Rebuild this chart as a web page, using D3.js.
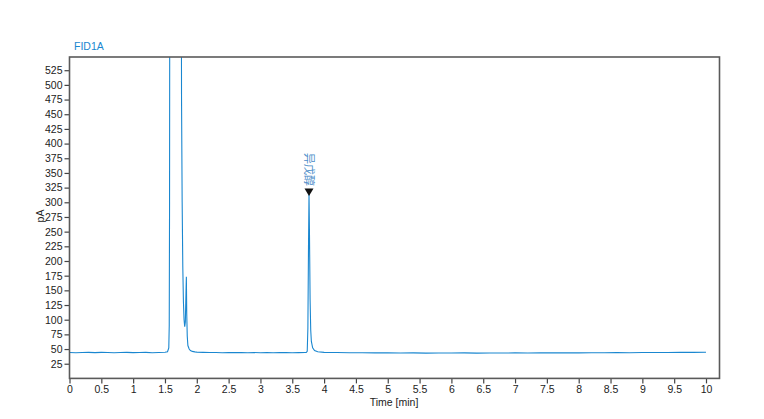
<!DOCTYPE html>
<html>
<head>
<meta charset="utf-8">
<script src="https://cdn.jsdelivr.net/npm/d3@7"></script>
<style>
  body { margin: 0; background: #fff; }
  text { font-family: "Liberation Sans", Arial, sans-serif; }
</style>
</head>
<body>
<svg width="764" height="419"></svg>
<script>
// signal (time in min, signal in pA)
const times = [
  0, 0.1, 0.2, 0.3, 0.4, 0.5, 0.6, 0.7, 0.8, 0.9, 1.0, 1.1, 1.2, 1.3, 1.4, 1.5,
  1.54, 1.56, 1.567, 1.572, 1.577, 1.6, 1.7, 1.755, 1.76, 1.77, 1.78, 1.79, 1.8, 1.81, 1.82,
  1.83, 1.836, 1.842, 1.85, 1.86, 1.88, 1.9, 1.93, 1.97, 2.0,
  2.1, 2.2, 2.3, 2.4, 2.5, 2.6, 2.7, 2.8, 2.9, 3.0, 3.1, 3.2, 3.3, 3.4, 3.5, 3.6, 3.7,
  3.72, 3.735, 3.745, 3.755, 3.763, 3.77, 3.78, 3.79, 3.8, 3.82, 3.85, 3.9, 4.0,
  4.2, 4.4, 4.6, 4.8, 5.0, 5.2, 5.4, 5.6, 5.8, 6.0, 6.2, 6.4, 6.6, 6.8, 7.0,
  7.2, 7.4, 7.6, 7.8, 8.0, 8.2, 8.4, 8.6, 8.8, 9.0, 9.2, 9.4, 9.6, 9.8, 10.0
];
const signal = [
  44.2, 43.8, 44.0, 44.4, 43.9, 44.3, 44.1, 43.7, 44.2, 44.4, 43.9, 44.0, 44.3, 43.8, 44.1, 44.6,
  45.5, 52, 90, 300, 900, 2500, 2500, 900, 480, 300, 190, 130, 100, 88, 96,
  145, 173, 110, 72, 56, 50, 47.5, 46, 45.2, 44.8,
  44.3, 44.0, 44.2, 43.8, 44.1, 43.9, 44.2, 43.7, 44.0, 43.8, 44.1, 43.6, 43.9, 44.0, 43.7, 43.9, 44.0,
  44.3, 46, 85, 225, 316, 250, 135, 82, 63, 52, 47.5, 45.3, 44.4,
  44.0, 43.6, 43.8, 43.4, 43.5, 43.2, 43.4, 43.1, 43.3, 43.2, 43.4, 43.1, 43.3, 43.2, 43.5,
  43.3, 43.6, 43.4, 43.7, 43.5, 43.8, 43.6, 43.9, 43.8, 44.0, 44.1, 44.0, 44.3, 44.4, 44.6
];
const xTicks = [0, 0.5, 1, 1.5, 2, 2.5, 3, 3.5, 4, 4.5, 5, 5.5, 6, 6.5, 7, 7.5, 8, 8.5, 9, 9.5, 10];
const yTicks = [25, 50, 75, 100, 125, 150, 175, 200, 225, 250, 275, 300, 325, 350, 375, 400, 425, 450, 475, 500, 525];
const peakTime = [3.763];
const peakHeight = [316];
const peakName = ["异戊醇"];

const svg = d3.select("svg");
const pLeft = 69.5, pTop = 57, pRight = 719.5, pBottom = 378.4;
const blue = "#1a87d0";

const x = d3.scaleLinear().domain([0, 10]).range([pLeft, 706]);
const y = d3.scaleLinear().domain([0, 547.5]).range([pBottom, pTop]);

svg.append("clipPath").attr("id", "plot")
  .append("rect").attr("x", pLeft).attr("y", pTop)
  .attr("width", pRight - pLeft).attr("height", pBottom - pTop);

// trace
const pts = times.map((t, i) => [t, signal[i]]);
svg.append("path")
  .datum(pts)
  .attr("clip-path", "url(#plot)")
  .attr("fill", "none")
  .attr("stroke", blue)
  .attr("stroke-width", 1.1)
  .attr("d", d3.line().x(d => x(d[0])).y(d => y(d[1])));

// axes
const xAxis = svg.append("g")
  .attr("transform", `translate(0,${pBottom})`)
  .call(d3.axisBottom(x).tickValues(xTicks).tickSize(5).tickPadding(2).tickFormat(d3.format("")));
const yAxis = svg.append("g")
  .attr("transform", `translate(${pLeft},0)`)
  .call(d3.axisLeft(y).tickValues(yTicks).tickSize(5).tickPadding(2));

[xAxis, yAxis].forEach(g => {
  g.select(".domain").remove();
  g.selectAll("line").attr("stroke", "#444").attr("stroke-width", 1.2);
  g.selectAll("text").attr("fill", "#222").style("font-size", "10.5px")
    .style("font-family", "'Liberation Sans', Arial, sans-serif");
});

// frame
svg.append("rect")
  .attr("x", pLeft).attr("y", pTop)
  .attr("width", pRight - pLeft).attr("height", pBottom - pTop)
  .attr("fill", "none").attr("stroke", "#5a5a5a").attr("stroke-width", 1.6);

// labels
svg.append("text").attr("x", 74).attr("y", 50)
  .attr("fill", blue).style("font-size", "10.5px").text("FID1A");
svg.append("text").attr("x", 394).attr("y", 406)
  .attr("text-anchor", "middle").attr("fill", "#222").style("font-size", "10.5px")
  .text("Time [min]");
svg.append("text")
  .attr("transform", "translate(44,216) rotate(-90)")
  .attr("text-anchor", "middle").attr("fill", "#222").style("font-size", "10.5px")
  .text("pA");

// peak marker and name
const peaks = svg.selectAll(".peak").data(peakTime).enter().append("g")
  .attr("class", "peak")
  .attr("transform", (d, i) => `translate(${x(d)},${y(peakHeight[i])})`);
peaks.append("path").attr("d", "M-4.5,-4.5L4.5,-4.5L0,3Z").attr("fill", "#111");
peaks.append("text")
  .attr("transform", "translate(-4,-40) rotate(90)")
  .attr("fill", "#4a8cc8").style("font-size", "11px")
  .style("font-family", "'Noto Sans CJK SC', sans-serif")
  .text((d, i) => peakName[i]);
</script>
</body>
</html>
